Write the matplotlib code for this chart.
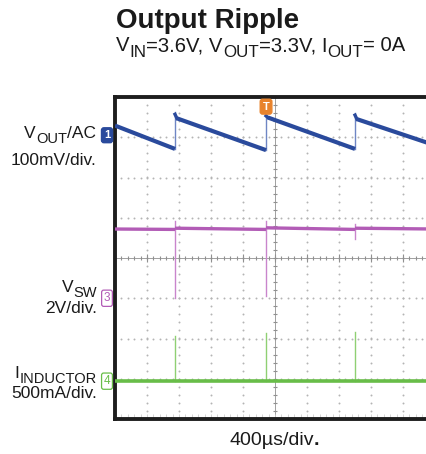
import matplotlib
matplotlib.use('Agg')
import matplotlib.pyplot as plt
import numpy as np

plt.rcParams['font.family'] = ['Liberation Sans', 'DejaVu Sans']

# ---------------- data (in scope divisions) ----------------
switch_t = [1.875, 4.72, 7.5]          # switching instants (div)
vout_start = 3.29
vout_before = [2.71, 2.68, 2.71]       # VOUT just before each pulse
vout_spike = [3.62, 3.58, 3.60]
vout_after = [3.47, 3.49, 3.45]        # VOUT just after each pulse
vout_end = 2.80

vsw_start = 0.72
vsw_before = [0.71, 0.71, 0.71]
vsw_after = [0.74, 0.75, 0.74]
vsw_end = 0.72
vsw_spike_down = [-1.0, -0.95, 0.47]
vsw_spike_up = [0.92, 0.92, 0.84]

il_level = -3.06
il_spike = [-1.94, -1.87, -1.84]

W, H = 426, 454
fig = plt.figure(figsize=(W / 100, H / 100), dpi=100)
fig.patch.set_facecolor('white')

ax = fig.add_axes([115 / W, (H - 419) / H, 320 / W, 322 / H])
ax.set_xlim(0, 10)
ax.set_ylim(-4, 4)
ax.set_xticks([])
ax.set_yticks([])
for s in ['top', 'left', 'bottom']:
    ax.spines[s].set_linewidth(2.8)
    ax.spines[s].set_color('#1e1e1e')
ax.spines['right'].set_visible(False)

# ---------------- graticule ----------------
gcol = '#b4b4b4'
xm = np.arange(0, 10.001, 0.2)
ym = np.arange(-4, 4.001, 0.2)
for gx in range(1, 10):
    if gx == 5:
        continue
    ax.plot(np.full_like(ym, gx), ym, ls='none', marker='o', ms=1.4, mew=0, color=gcol)
for gy in range(-3, 4):
    if gy == 0:
        continue
    ax.plot(xm, np.full_like(xm, gy), ls='none', marker='o', ms=1.4, mew=0, color=gcol)
ccol = '#909090'
ax.axhline(0, color=ccol, lw=0.6)
ax.axvline(5, color=ccol, lw=0.6)
ax.plot(xm, np.zeros_like(xm), ls='none', marker='|', ms=3.5, mew=0.8, color=ccol)
ax.plot(np.arange(0, 11), np.zeros(11), ls='none', marker='|', ms=6, mew=0.8, color=ccol)
ax.plot(np.full_like(ym, 5), ym, ls='none', marker='_', ms=3.5, mew=0.8, color=ccol)
ax.plot(xm, np.full_like(xm, -3.93), ls='none', marker='|', ms=2.5, mew=0.6, color='#cccccc')

# ---------------- traces ----------------
blue = '#2a4a9c'
blue_thin = '#6f86c4'
pink = '#b25cb6'
pink_thin = '#c985cc'
green = '#68bd48'
green_thin = '#8fd073'

# VOUT ramps
starts_x = [0] + switch_t
starts_y = [vout_start] + vout_after
ends_x = switch_t + [10]
ends_y = vout_before + [vout_end]
for x0, y0, x1, y1 in zip(starts_x, starts_y, ends_x, ends_y):
    ax.plot([x0 + (0.06 if x0 > 0 else 0), x1], [y0, y1], color=blue, lw=3.0,
            solid_capstyle='butt', zorder=5)
for t, lo, sp, hi in zip(switch_t, vout_before, vout_spike, vout_after):
    ax.plot([t, t], [lo, sp], color=blue_thin, lw=1.0, zorder=4)
    ax.plot([t, t + 0.06], [sp - 0.05, hi], color=blue, lw=2.4, zorder=5)

# VSW
vsw_sx = [0] + switch_t
vsw_sy = [vsw_start] + vsw_after
vsw_ex = switch_t + [10]
vsw_ey = vsw_before + [vsw_end]
for x0, y0, x1, y1 in zip(vsw_sx, vsw_sy, vsw_ex, vsw_ey):
    ax.plot([x0, x1], [y0, y1], color=pink, lw=2.4, solid_capstyle='butt', zorder=5)
for t, dn, up in zip(switch_t, vsw_spike_down, vsw_spike_up):
    ax.plot([t, t], [dn, up], color=pink_thin, lw=1.0, zorder=4)

# Inductor current
ax.plot([0, 10], [il_level, il_level], color=green, lw=2.6, zorder=5)
for t, sp in zip(switch_t, il_spike):
    ax.plot([t, t], [il_level, sp], color=green_thin, lw=1.0, zorder=4)

# ---------------- channel markers ----------------
mx = -0.25
ax.text(mx, 3.05, '1', color='white', fontsize=8, fontweight='bold', ha='center', va='center',
        clip_on=False, bbox=dict(boxstyle='round,pad=0.22', fc=blue, ec=blue))
ax.text(mx, -1.0, '3', color=pink, fontsize=8.5, ha='center', va='center', clip_on=False,
        bbox=dict(boxstyle='round,pad=0.18', fc='white', ec=pink, lw=0.9))
ax.text(mx, il_level, '4', color=green, fontsize=8.5, ha='center', va='center', clip_on=False,
        bbox=dict(boxstyle='round,pad=0.18', fc='white', ec=green, lw=0.9))
ax.text(switch_t[1], 3.76, 'T', color='white', fontsize=8, fontweight='bold', ha='center',
        va='center', clip_on=False, zorder=8,
        bbox=dict(boxstyle='round,pad=0.22', fc='#e8832c', ec='#e8832c'))

# ---------------- rich text helper ----------------
renderer = fig.canvas.get_renderer()


def _width(s, fs, weight):
    t1 = fig.text(0, 0, 'x' + s + 'x', fontsize=fs, fontweight=weight)
    t2 = fig.text(0, 0, 'xx', fontsize=fs, fontweight=weight)
    w = t1.get_window_extent(renderer).width - t2.get_window_extent(renderer).width
    t1.remove()
    t2.remove()
    return w


def rich(pieces, x_px, base_px, size, ha='left', sub_scale=0.84, sub_drop=0.28):
    info = []
    for p in pieces:
        s, sub = p[0], p[1]
        weight = p[2] if len(p) > 2 else 'normal'
        fs = size * sub_scale if sub else size
        info.append((s, sub, weight, fs, _width(s, fs, weight)))
    total = sum(i[4] for i in info)
    if ha == 'right':
        x = x_px - total
    elif ha == 'center':
        x = x_px - total / 2
    else:
        x = x_px
    for s, sub, weight, fs, w in info:
        yb = base_px + (sub_drop * size * 100 / 72 if sub else 0)
        fig.text(x / W, 1 - yb / H, s, fontsize=fs, fontweight=weight,
                 ha='left', va='baseline', color='#1a1a1a')
        x += w


# title
fig.text(116 / W, 1 - 28 / H, 'Output Ripple', fontsize=20, fontweight='bold',
         ha='left', va='baseline', color='#1a1a1a')
rich([('V', False), ('IN', True), ('=3.6V, V', False), ('OUT', True),
      ('=3.3V, I', False), ('OUT', True), ('= 0A', False)], 116, 51, 14.6)

# left labels
rich([('V', False), ('OUT', True), ('/AC', False)], 96, 138, 12.5, ha='right')
rich([('100mV/div.', False)], 97, 165, 12.5, ha='right')
rich([('V', False), ('SW', True)], 97, 292, 12.5, ha='right')
rich([('2V/div.', False)], 97, 313, 12.5, ha='right')
rich([('I', False), ('INDUCTOR', True)], 97, 378, 12.5, ha='right')
rich([('500mA/div.', False)], 97, 398, 12.5, ha='right')

# bottom label
rich([('400µs/div', False), ('.', False, 'bold')], 274, 445, 14, ha='center')

fig.savefig('out.png', dpi=100)
